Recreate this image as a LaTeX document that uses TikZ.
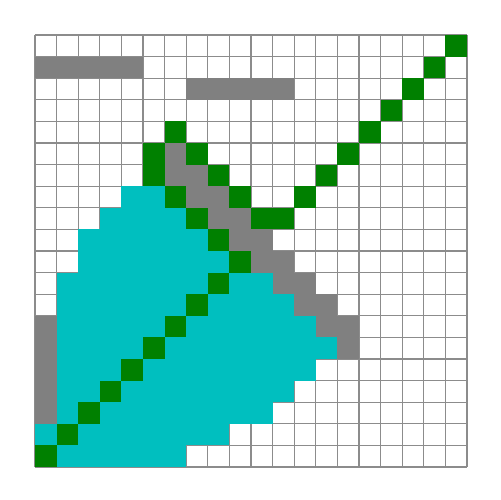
\documentclass[tikz,border=0pt]{standalone}
\definecolor{gridc}{RGB}{140,140,140}
\definecolor{cgray}{RGB}{128,128,128}
\definecolor{cgreen}{RGB}{0,128,0}
\definecolor{ccyan}{RGB}{0,191,191}
\tikzset{
  gridline/.style={draw=gridc, line width=0.8pt},
  graycell/.style={fill=cgray},
  greencell/.style={fill=cgreen},
  cyancell/.style={fill=ccyan},
}
% span: style, first col, last col, row (row 0 = top)
\newcommand{\cspan}[4]{\fill[#1] (#2,19-#4) rectangle (#3+1,20-#4);}
\begin{document}
\begin{tikzpicture}[x=0.5cm,y=0.5cm]
\useasboundingbox (-1.62,-1.528) rectangle (21.528,21.62);
\fill[white] (0,0) rectangle (20,20);
\draw[gridline,step=0.5cm] (0,0) grid (20,20);
% gray
\foreach \a/\b/\r in {0/4/1, 7/11/2, 6/6/5, 6/7/6, 7/8/7, 8/9/8, 9/10/9, 10/11/10, 11/12/11, 12/13/12, 13/14/13, 14/14/14, 0/0/13, 0/0/14, 0/0/15, 0/0/16, 0/0/17}
  {\cspan{graycell}{\a}{\b}{\r}}
% cyan
\foreach \a/\b/\r in {4/5/7, 3/6/8, 2/7/9, 2/8/10, 1/10/11, 1/11/12, 1/12/13, 1/13/14, 1/12/15, 1/11/16, 1/10/17, 0/8/18, 1/6/19}
  {\cspan{cyancell}{\a}{\b}{\r}}
% green
\foreach \c/\r in {19/0, 18/1, 17/2, 16/3, 6/4, 15/4, 5/5, 7/5, 14/5, 5/6, 8/6, 13/6, 6/7, 9/7, 12/7, 7/8, 10/8, 11/8, 8/9, 9/10, 8/11, 7/12, 6/13, 5/14, 4/15, 3/16, 2/17, 1/18, 0/19}
  {\cspan{greencell}{\c}{\c}{\r}}
\end{tikzpicture}
\end{document}
